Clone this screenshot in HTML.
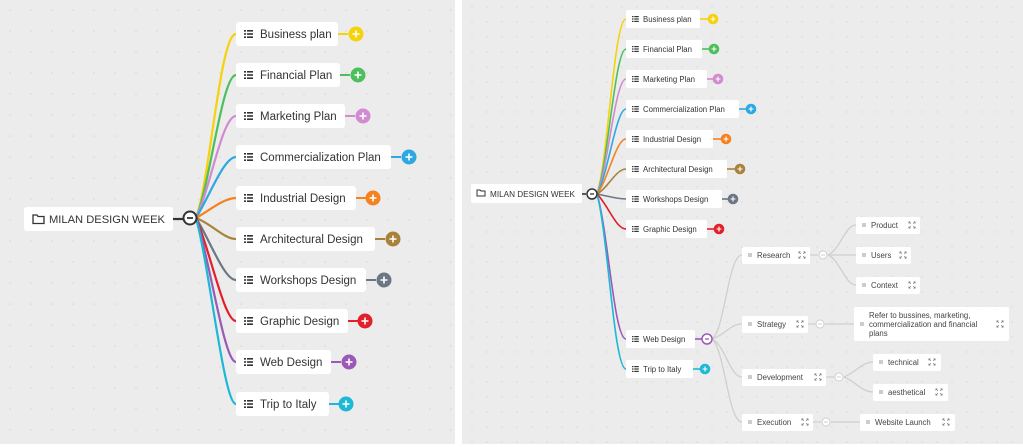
<!DOCTYPE html>
<html><head><meta charset="utf-8"><style>
html,body{margin:0;padding:0;background:#fff}
svg{display:block;font-family:"Liberation Sans",sans-serif}
</style></head><body>
<svg width="1023" height="447" viewBox="0 0 1023 447" xmlns="http://www.w3.org/2000/svg">
<defs>
<pattern id="d" width="21" height="21" patternUnits="userSpaceOnUse"><circle cx="10" cy="10" r="0.8" fill="#d6d6d6"/></pattern>
<pattern id="d2" width="15" height="15" patternUnits="userSpaceOnUse"><circle cx="7" cy="7" r="0.7" fill="#d6d6d6"/></pattern>
<g id="li"><rect x="0" y="0" width="2" height="1.6" fill="#333"/><rect x="3" y="0" width="6" height="1.6" fill="#333"/><rect x="0" y="3.2" width="2" height="1.6" fill="#333"/><rect x="3" y="3.2" width="6" height="1.6" fill="#333"/><rect x="0" y="6.4" width="2" height="1.6" fill="#333"/><rect x="3" y="6.4" width="6" height="1.6" fill="#333"/></g>
<g id="pl"><path d="M-3.5 0H3.5M0 -3.5V3.5" stroke="#fff" stroke-width="1.6"/></g>
<g id="ex" stroke="#888" stroke-width="1" fill="none"><path d="M-4 -4l2.5 2.5M4 -4l-2.5 2.5M-4 4l2.5 -2.5M4 4l-2.5 -2.5M-4 -4h2M-4 -4v2M4 -4h-2M4 -4v2M-4 4h2M-4 4v-2M4 4h-2M4 4v-2"/></g>
</defs>
<rect width="1023" height="447" fill="#fff"/>
<rect x="0" y="0" width="455" height="444" fill="#ececec"/>
<rect x="0" y="0" width="455" height="444" fill="url(#d)"/>
<rect x="462" y="0" width="561" height="444" fill="#ececec"/>
<rect x="462" y="0" width="561" height="444" fill="url(#d2)"/>

<!-- LEFT PANEL -->
<g fill="none" stroke-width="2.2">
<path d="M196 218C210 180 220 34 236 34" stroke="#f5d20a"/>
<path d="M196 218C210 185 222 75 236 75" stroke="#4dbf5c"/>
<path d="M196 218C210 190 222 116 236 116" stroke="#d28ad0"/>
<path d="M196 218C210 195 224 157 236 157" stroke="#2ea8e0"/>
<path d="M196 218C210 210 224 198 236 198" stroke="#f5821f"/>
<path d="M196 218C212 224 224 239 236 239" stroke="#a8823a"/>
<path d="M196 218C210 240 224 280 236 280" stroke="#6b7785"/>
<path d="M196 218C210 250 224 321 236 321" stroke="#e3202a"/>
<path d="M196 218C210 260 224 362 236 362" stroke="#9b59b6"/>
<path d="M196 218C210 270 224 404 236 404" stroke="#1cb8d6"/>
<path d="M173 219H183" stroke="#333"/>
</g>
<rect x="24" y="207" width="149" height="24" rx="3" fill="#fff"/>
<path d="M33 215h4l1 1.5h6v7h-11z" fill="none" stroke="#333" stroke-width="1.3"/>
<text x="49" y="223" font-size="11" fill="#333" textLength="116" lengthAdjust="spacingAndGlyphs">MILAN DESIGN WEEK</text>
<circle cx="190" cy="218" r="6.5" fill="#fff" stroke="#333" stroke-width="2"/>
<path d="M187 218h6" stroke="#333" stroke-width="1.8"/>

<g font-size="11.5" fill="#333">
<g stroke-width="2">
<path d="M338 34h10" stroke="#f5d20a"/><path d="M340 75h10" stroke="#4dbf5c"/><path d="M345 116h10" stroke="#d28ad0"/><path d="M391 157h10" stroke="#2ea8e0"/><path d="M356 198h10" stroke="#f5821f"/><path d="M375 239h10" stroke="#a8823a"/><path d="M366 280h10" stroke="#6b7785"/><path d="M348 321h10" stroke="#e3202a"/><path d="M331 362h10" stroke="#9b59b6"/><path d="M329 404h10" stroke="#1cb8d6"/>
</g>
<rect x="236" y="22" width="102" height="24" rx="3" fill="#fff"/><use href="#li" x="244" y="30"/><text x="260" y="38">Business plan</text>
<circle cx="356" cy="34" r="7.5" fill="#f5d20a"/><use href="#pl" x="356" y="34"/>
<rect x="236" y="63" width="104" height="24" rx="3" fill="#fff"/><use href="#li" x="244" y="71"/><text x="260" y="79">Financial Plan</text>
<circle cx="358" cy="75" r="7.5" fill="#4dbf5c"/><use href="#pl" x="358" y="75"/>
<rect x="236" y="104" width="109" height="24" rx="3" fill="#fff"/><use href="#li" x="244" y="112"/><text x="260" y="120">Marketing Plan</text>
<circle cx="363" cy="116" r="7.5" fill="#d28ad0"/><use href="#pl" x="363" y="116"/>
<rect x="236" y="145" width="155" height="24" rx="3" fill="#fff"/><use href="#li" x="244" y="153"/><text x="260" y="161">Commercialization Plan</text>
<circle cx="409" cy="157" r="7.5" fill="#2ea8e0"/><use href="#pl" x="409" y="157"/>
<rect x="236" y="186" width="120" height="24" rx="3" fill="#fff"/><use href="#li" x="244" y="194"/><text x="260" y="202">Industrial Design</text>
<circle cx="373" cy="198" r="7.5" fill="#f5821f"/><use href="#pl" x="373" y="198"/>
<rect x="236" y="227" width="139" height="24" rx="3" fill="#fff"/><use href="#li" x="244" y="235"/><text x="260" y="243">Architectural Design</text>
<circle cx="393" cy="239" r="7.5" fill="#a8823a"/><use href="#pl" x="393" y="239"/>
<rect x="236" y="268" width="130" height="24" rx="3" fill="#fff"/><use href="#li" x="244" y="276"/><text x="260" y="284">Workshops Design</text>
<circle cx="384" cy="280" r="7.5" fill="#6b7785"/><use href="#pl" x="384" y="280"/>
<rect x="236" y="309" width="112" height="24" rx="3" fill="#fff"/><use href="#li" x="244" y="317"/><text x="260" y="325">Graphic Design</text>
<circle cx="365" cy="321" r="7.5" fill="#e3202a"/><use href="#pl" x="365" y="321"/>
<rect x="236" y="350" width="95" height="24" rx="3" fill="#fff"/><use href="#li" x="244" y="358"/><text x="260" y="366">Web Design</text>
<circle cx="349" cy="362" r="7.5" fill="#9b59b6"/><use href="#pl" x="349" y="362"/>
<rect x="236" y="392" width="93" height="24" rx="3" fill="#fff"/><use href="#li" x="244" y="400"/><text x="260" y="408">Trip to Italy</text>
<circle cx="346" cy="404" r="7.5" fill="#1cb8d6"/><use href="#pl" x="346" y="404"/>
</g>

<!-- RIGHT PANEL -->
<g fill="none" stroke-width="1.6">
<path d="M597 194C608 160 614 19 626 19" stroke="#f5d20a"/>
<path d="M597 194C608 165 615 49 626 49" stroke="#4dbf5c"/>
<path d="M597 194C608 170 615 79 626 79" stroke="#d28ad0"/>
<path d="M597 194C608 175 616 109 626 109" stroke="#2ea8e0"/>
<path d="M597 194C608 180 616 139 626 139" stroke="#f5821f"/>
<path d="M597 194C608 188 616 169 626 169" stroke="#a8823a"/>
<path d="M597 194C608 196 616 199 626 199" stroke="#6b7785"/>
<path d="M597 194C608 205 616 229 626 229" stroke="#e3202a"/>
<path d="M597 194C608 230 614 339 626 339" stroke="#9b59b6"/>
<path d="M597 194C608 235 614 369 626 369" stroke="#1cb8d6"/>
<path d="M582 194H586" stroke="#333"/>
</g>
<g fill="none" stroke="#cfcfcf" stroke-width="1.3">
<path d="M712 339C725 330 728 255 742 255"/>
<path d="M712 339C725 335 730 324 742 324"/>
<path d="M712 339C725 345 730 377 742 377"/>
<path d="M712 339C725 350 728 422 742 422"/>
<path d="M810 255h8M828 255C840 250 845 225 856 225M828 255H856M828 255C840 260 845 285 856 285"/>
<path d="M808 324h8M825 324H854"/>
<path d="M826 377h8M844 377C855 373 862 362 873 362M844 377C855 381 862 392 873 392"/>
<path d="M813 422h8M831 422H860"/>
</g>
<rect x="471" y="184" width="111" height="19" rx="2" fill="#fff"/>
<path d="M477 190h3l1 1h4v5h-8z" fill="none" stroke="#333" stroke-width="1"/>
<text x="490" y="197" font-size="8" fill="#333" textLength="85" lengthAdjust="spacingAndGlyphs">MILAN DESIGN WEEK</text>
<circle cx="592" cy="194" r="5" fill="#fff" stroke="#333" stroke-width="1.5"/><path d="M590 194h4" stroke="#333" stroke-width="1.3"/>

<g font-size="7.8" fill="#333">
<g stroke-width="1.6">
<path d="M700 19h8" stroke="#f5d20a"/><path d="M702 49h8" stroke="#4dbf5c"/><path d="M707 79h8" stroke="#d28ad0"/><path d="M739 109h8" stroke="#2ea8e0"/><path d="M713 139h8" stroke="#f5821f"/><path d="M727 169h8" stroke="#a8823a"/><path d="M722 199h8" stroke="#6b7785"/><path d="M707 229h8" stroke="#e3202a"/><path d="M695 339h8" stroke="#9b59b6"/><path d="M693 369h8" stroke="#1cb8d6"/>
</g>
<rect x="626" y="10" width="74" height="18" rx="2" fill="#fff"/><use href="#li" transform="translate(632 16) scale(0.75)"/><text x="643" y="22">Business plan</text>
<circle cx="713" cy="19" r="5.3" fill="#f5d20a"/><use href="#pl" transform="translate(713 19) scale(0.7)"/>
<rect x="626" y="40" width="76" height="18" rx="2" fill="#fff"/><use href="#li" transform="translate(632 46) scale(0.75)"/><text x="643" y="52">Financial Plan</text>
<circle cx="714" cy="49" r="5.3" fill="#4dbf5c"/><use href="#pl" transform="translate(714 49) scale(0.7)"/>
<rect x="626" y="70" width="81" height="18" rx="2" fill="#fff"/><use href="#li" transform="translate(632 76) scale(0.75)"/><text x="643" y="82">Marketing Plan</text>
<circle cx="718" cy="79" r="5.3" fill="#d28ad0"/><use href="#pl" transform="translate(718 79) scale(0.7)"/>
<rect x="626" y="100" width="113" height="18" rx="2" fill="#fff"/><use href="#li" transform="translate(632 106) scale(0.75)"/><text x="643" y="112">Commercialization Plan</text>
<circle cx="751" cy="109" r="5.3" fill="#2ea8e0"/><use href="#pl" transform="translate(751 109) scale(0.7)"/>
<rect x="626" y="130" width="87" height="18" rx="2" fill="#fff"/><use href="#li" transform="translate(632 136) scale(0.75)"/><text x="643" y="142">Industrial Design</text>
<circle cx="726" cy="139" r="5.3" fill="#f5821f"/><use href="#pl" transform="translate(726 139) scale(0.7)"/>
<rect x="626" y="160" width="101" height="18" rx="2" fill="#fff"/><use href="#li" transform="translate(632 166) scale(0.75)"/><text x="643" y="172">Architectural Design</text>
<circle cx="740" cy="169" r="5.3" fill="#a8823a"/><use href="#pl" transform="translate(740 169) scale(0.7)"/>
<rect x="626" y="190" width="96" height="18" rx="2" fill="#fff"/><use href="#li" transform="translate(632 196) scale(0.75)"/><text x="643" y="202">Workshops Design</text>
<circle cx="733" cy="199" r="5.3" fill="#6b7785"/><use href="#pl" transform="translate(733 199) scale(0.7)"/>
<rect x="626" y="220" width="81" height="18" rx="2" fill="#fff"/><use href="#li" transform="translate(632 226) scale(0.75)"/><text x="643" y="232">Graphic Design</text>
<circle cx="719" cy="229" r="5.3" fill="#e3202a"/><use href="#pl" transform="translate(719 229) scale(0.7)"/>
<rect x="626" y="330" width="69" height="18" rx="2" fill="#fff"/><use href="#li" transform="translate(632 336) scale(0.75)"/><text x="643" y="342">Web Design</text>
<circle cx="707" cy="339" r="5" fill="#fff" stroke="#9b59b6" stroke-width="1.5"/><path d="M705 339h4" stroke="#9b59b6" stroke-width="1.3"/>
<rect x="626" y="360" width="67" height="18" rx="2" fill="#fff"/><use href="#li" transform="translate(632 366) scale(0.75)"/><text x="643" y="372">Trip to Italy</text>
<circle cx="705" cy="369" r="5.3" fill="#1cb8d6"/><use href="#pl" transform="translate(705 369) scale(0.7)"/>
</g>

<g font-size="7.8" fill="#444">
<g fill="#fff" stroke="#cfcfcf" stroke-width="1">
<circle cx="823" cy="255" r="4"/><circle cx="820" cy="324" r="4"/><circle cx="839" cy="377" r="4"/><circle cx="826" cy="422" r="4"/>
</g>
<g stroke="#cfcfcf" stroke-width="0.9"><path d="M821 255h4M818 324h4M837 377h4M824 422h4"/></g>
<rect x="742" y="247" width="68" height="17" rx="2" fill="#fff"/><rect x="748" y="253" width="4" height="4" fill="#ccc"/><text x="757" y="258">Research</text><use href="#ex" transform="translate(802 255) scale(0.8)"/>
<rect x="742" y="316" width="66" height="17" rx="2" fill="#fff"/><rect x="748" y="322" width="4" height="4" fill="#ccc"/><text x="757" y="327">Strategy</text><use href="#ex" transform="translate(800 324) scale(0.8)"/>
<rect x="742" y="369" width="84" height="17" rx="2" fill="#fff"/><rect x="748" y="375" width="4" height="4" fill="#ccc"/><text x="757" y="380">Development</text><use href="#ex" transform="translate(818 377) scale(0.8)"/>
<rect x="742" y="414" width="71" height="17" rx="2" fill="#fff"/><rect x="748" y="420" width="4" height="4" fill="#ccc"/><text x="757" y="425">Execution</text><use href="#ex" transform="translate(805 422) scale(0.8)"/>

<rect x="856" y="217" width="64" height="17" rx="2" fill="#fff"/><rect x="862" y="223" width="4" height="4" fill="#ccc"/><text x="871" y="228">Product</text><use href="#ex" transform="translate(912 225) scale(0.8)"/>
<rect x="856" y="247" width="55" height="17" rx="2" fill="#fff"/><rect x="862" y="253" width="4" height="4" fill="#ccc"/><text x="871" y="258">Users</text><use href="#ex" transform="translate(903 255) scale(0.8)"/>
<rect x="856" y="277" width="64" height="17" rx="2" fill="#fff"/><rect x="862" y="283" width="4" height="4" fill="#ccc"/><text x="871" y="288">Context</text><use href="#ex" transform="translate(912 285) scale(0.8)"/>
<rect x="854" y="307" width="155" height="34" rx="2" fill="#fff"/><rect x="860" y="322" width="4" height="4" fill="#ccc"/>
<text x="869" y="318">Refer to bussines, marketing,</text><text x="869" y="327">commercialization and financial</text><text x="869" y="336">plans</text><use href="#ex" transform="translate(1000 324) scale(0.8)"/>
<rect x="873" y="354" width="68" height="17" rx="2" fill="#fff"/><rect x="879" y="360" width="4" height="4" fill="#ccc"/><text x="888" y="365">technical</text><use href="#ex" transform="translate(932 362) scale(0.8)"/>
<rect x="873" y="384" width="75" height="17" rx="2" fill="#fff"/><rect x="879" y="390" width="4" height="4" fill="#ccc"/><text x="888" y="395">aesthetical</text><use href="#ex" transform="translate(939 392) scale(0.8)"/>
<rect x="860" y="414" width="95" height="17" rx="2" fill="#fff"/><rect x="866" y="420" width="4" height="4" fill="#ccc"/><text x="875" y="425">Website Launch</text><use href="#ex" transform="translate(946 422) scale(0.8)"/>
</g>
</svg>
</body></html>
